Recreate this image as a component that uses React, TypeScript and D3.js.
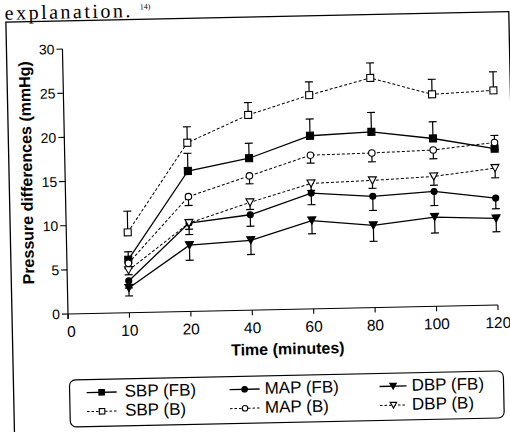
import React from 'react';
import * as d3 from 'd3';

const xCategories = ["0", "10", "20", "40", "60", "80", "100", "120"];
const sampleTimes = ["10", "20", "40", "60", "80", "100", "120"];
const yTickValues = [0, 5, 10, 15, 20, 25, 30];

const sbpFB = [6.0, 15.9, 17.2, 19.6, 19.9, 19.0, 17.7];
const sbpFBErr = [0.9, 2.0, 1.7, 1.9, 2.2, 1.9, 1.5];
const sbpB = [9.1, 19.1, 22.1, 24.2, 26.0, 24.0, 24.3];
const sbpBErr = [2.4, 1.8, 1.4, 1.5, 1.7, 1.7, 2.1];
const mapFB = [3.6, 10.0, 10.8, 13.1, 12.6, 13.0, 12.1];
const mapFBErr = [0.8, 1.3, 1.3, 1.3, 1.6, 1.6, 1.2];
const mapB = [5.6, 13.0, 15.2, 17.4, 17.5, 17.7, 18.4];
const mapBErr = [0.6, 1.0, 0.9, 0.9, 1.0, 1.0, 0.8];
const dbpFB = [2.8, 7.5, 7.9, 10.0, 9.3, 10.1, 9.8];
const dbpFBErr = [0.9, 1.7, 1.6, 1.5, 1.8, 1.8, 1.5];
const dbpB = [4.8, 10.0, 12.2, 14.2, 14.4, 14.7, 15.5];
const dbpBErr = [0.5, 0.7, 0.8, 0.8, 0.9, 1.0, 1.1];

const seriesNames = ["SBP (FB)", "MAP (FB)", "DBP (FB)", "SBP (B)", "MAP (B)", "DBP (B)"];

type Marker = 'square' | 'circle' | 'tri';

function MarkerShape({ type, filled, cx, cy, s }: { type: Marker; filled: boolean; cx: number; cy: number; s: number }) {
  const fill = filled ? '#000' : '#fff';
  const common = { fill, stroke: '#000', strokeWidth: 1.1 };
  if (type === 'square') return <rect x={cx - s / 2} y={cy - s / 2} width={s} height={s} {...common} />;
  if (type === 'circle') return <circle cx={cx} cy={cy} r={s / 2} {...common} />;
  const h = s * 0.9;
  return <path d={`M${cx - s / 2},${cy - h / 2}L${cx + s / 2},${cy - h / 2}L${cx},${cy + h / 2}Z`} {...common} />;
}

export default function App() {
  const W = 510, H = 432;
  const x = d3.scalePoint<string>().domain(xCategories).range([68, 498]);
  const y = d3.scaleLinear().domain([0, 30]).range([314, 49]);
  const font = 'Arial, "Liberation Sans", Helvetica, sans-serif';

  const series = [
    { name: seriesNames[0], values: sbpFB, errs: sbpFBErr, dir: 1, marker: 'square' as Marker, filled: true, dashed: false },
    { name: seriesNames[1], values: mapFB, errs: mapFBErr, dir: -1, marker: 'circle' as Marker, filled: true, dashed: false },
    { name: seriesNames[2], values: dbpFB, errs: dbpFBErr, dir: -1, marker: 'tri' as Marker, filled: true, dashed: false },
    { name: seriesNames[3], values: sbpB, errs: sbpBErr, dir: 1, marker: 'square' as Marker, filled: false, dashed: true },
    { name: seriesNames[4], values: mapB, errs: mapBErr, dir: -1, marker: 'circle' as Marker, filled: false, dashed: true },
    { name: seriesNames[5], values: dbpB, errs: dbpBErr, dir: -1, marker: 'tri' as Marker, filled: false, dashed: true },
  ];

  const line = d3.line<number>()
    .x((_, i) => x(sampleTimes[i]) as number)
    .y((d) => y(d));

  const markerSize = (m: Marker, filled: boolean) => (m === 'square' ? 7 : m === 'circle' ? (filled ? 6 : 6.5) : 8);

  const legendCols = [85, 228, 378];
  const legendLineLen = [30, 30, 27];
  const legendTextX = [123, 263, 410];
  const legendRows = [398, 417];

  return (
    <svg width={W} height={H} style={{ position: 'absolute', left: 0, top: 0, background: '#fff' }}>
      <rect x={0} y={0} width={W} height={H} fill="#fff" />
      <g transform="rotate(-1.2, 68, 314)">
        <text x={11} y={18.5} fontFamily='"Liberation Serif", "Times New Roman", serif' fontSize={20} letterSpacing={2.5} fill="#000">explanation.</text>
        <text x={146} y={11} fontFamily='"Liberation Serif", "Times New Roman", serif' fontSize={8} fill="#000">14)</text>
        {/* frame */}
        <rect x={12} y={21} width={503} height={520} fill="none" stroke="#000" strokeWidth={1.3} />

        {/* y axis */}
        <line x1={68} x2={68} y1={y(30)} y2={y(0) + 5} stroke="#000" strokeWidth={1.2} />
        {yTickValues.map((t) => (
          <g key={t}>
            <line x1={62} x2={68} y1={y(t)} y2={y(t)} stroke="#000" strokeWidth={1.1} />
            <text x={60} y={y(t)} dy="0.36em" textAnchor="end" fontFamily={font} fontSize={14}>{t}</text>
          </g>
        ))}
        {/* x axis */}
        <line x1={68} x2={x('120') as number} y1={y(0)} y2={y(0)} stroke="#000" strokeWidth={1.2} />
        {xCategories.map((c) => (
          <g key={c}>
            <line x1={x(c) as number} x2={x(c) as number} y1={y(0)} y2={y(0) + 5} stroke="#000" strokeWidth={1.1} />
            <text x={(x(c) as number) + (c === '0' ? 3 : 0)} y={337} textAnchor="middle" fontFamily={font} fontSize={15.5}>{c}</text>
          </g>
        ))}
        <text x={287} y={359} textAnchor="middle" fontFamily={font} fontWeight="bold" fontSize={16}>Time (minutes)</text>
        <text transform="translate(35,172) rotate(-90)" textAnchor="middle" fontFamily={font} fontWeight="bold" fontSize={16}>Pressure differences (mmHg)</text>

        {/* lines */}
        {series.map((s) => (
          <path key={s.name + 'l'} d={line(s.values) as string} fill="none" stroke="#000"
            strokeWidth={s.dashed ? 1 : 1.3} strokeDasharray={s.dashed ? '3,2' : undefined} />
        ))}
        {/* error bars */}
        {series.map((s) => s.values.map((v, i) => {
          const cx = x(sampleTimes[i]) as number;
          const ye = y(v + s.dir * s.errs[i]);
          return (
            <g key={s.name + 'e' + i}>
              <line x1={cx} x2={cx} y1={y(v)} y2={ye} stroke="#000" strokeWidth={1.2} />
              <line x1={cx - 4} x2={cx + 4} y1={ye} y2={ye} stroke="#000" strokeWidth={1.2} />
            </g>
          );
        }))}
        {/* markers */}
        {series.map((s) => s.values.map((v, i) => (
          <MarkerShape key={s.name + 'm' + i} type={s.marker} filled={s.filled}
            cx={x(sampleTimes[i]) as number} cy={y(v)} s={markerSize(s.marker, s.filled)} />
        )))}

        {/* legend */}
        <rect x={68} y={380} width={434} height={47} rx={6} fill="#fff" stroke="#000" strokeWidth={1.2} />
        {series.map((s, k) => {
          const col = k % 3, row = Math.floor(k / 3);
          const lx = legendCols[col];
          const len = legendLineLen[col];
          const ly = legendRows[row] - 5;
          return (
            <g key={s.name + 'leg'}>
              <line x1={lx} x2={lx + len} y1={ly} y2={ly} stroke="#000" strokeWidth={s.dashed ? 1 : 1.3}
                strokeDasharray={s.dashed ? '2.5,2' : undefined} />
              <MarkerShape type={s.marker} filled={s.filled} cx={lx + len / 2} cy={ly} s={s.marker === 'tri' ? 6.5 : 5.5} />
              <text x={legendTextX[col]} y={legendRows[row]} fontFamily={font} fontSize={17}>{s.name}</text>
            </g>
          );
        })}
      </g>
    </svg>
  );
}
